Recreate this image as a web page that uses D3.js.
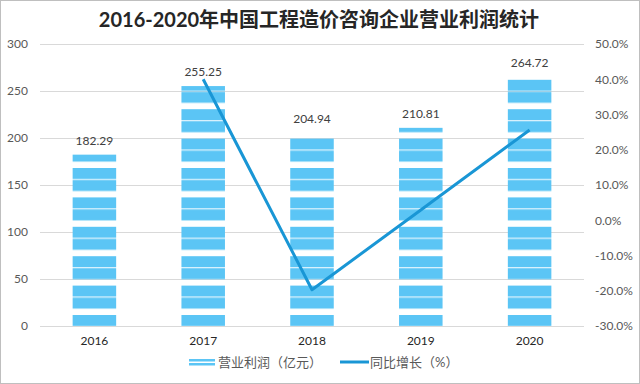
<!DOCTYPE html>
<html><head><meta charset="utf-8">
<script src="https://cdn.jsdelivr.net/npm/d3@7"></script>
<style>
html,body{margin:0;padding:0;background:#fff;}
svg{display:block;}
</style></head>
<body>
<svg id="c" width="640" height="384"></svg>
<script>
const years = ["2016","2017","2018","2019","2020"];
const profit = [182.29, 255.25, 204.94, 210.81, 264.72];
const growth = [null, 40.0, -19.7, 2.9, 25.6];
const leftTicks = [0,50,100,150,200,250,300];
const rightTicks = [-30,-20,-10,0,10,20,30,40,50];
const title = "2016-2020年中国工程造价咨询企业营业利润统计";
const legendLabels = ["营业利润（亿元）","同比增长（%）"];

const svg = d3.select("#c");
const W = 640, H = 384;
const m = {left:40, right:56, top:44, bottom:58};
const x = d3.scaleBand().domain(years).range([m.left, W - m.right]).paddingInner(0.6).paddingOuter(0.3);
const y = d3.scaleLinear().domain([0,300]).range([326, 44]);
const y2 = d3.scaleLinear().domain([-30,50]).range([326, 44]);
const font = "Lato, 'Noto Sans CJK SC', sans-serif";
const barColor = "#5bc5f5";
const lineColor = "#1996d5";

// border
svg.append("rect").attr("x",0.5).attr("y",0.5).attr("width",W-1).attr("height",H-1)
  .attr("fill","#fff").attr("stroke","#bfbfbf");

// stripe pattern
const defs = svg.append("defs");
const P = 29.4;
const pat = defs.append("pattern").attr("id","stripe").attr("patternUnits","userSpaceOnUse")
  .attr("x",0).attr("y",168).attr("width",10).attr("height",P);
pat.append("rect").attr("x",0).attr("y",0).attr("width",10).attr("height",11).attr("fill",barColor);
pat.append("rect").attr("x",0).attr("y",12).attr("width",10).attr("height",11).attr("fill",barColor);

// title
svg.append("text").attr("x",319).attr("y",27).attr("text-anchor","middle")
  .attr("font-family","Lato, 'Noto Sans CJK SC', sans-serif").attr("font-weight","bold")
  .attr("font-size",20).attr("fill","#262626").text(title);

// gridlines
svg.append("g").selectAll("line").data(leftTicks).join("line")
  .attr("x1",m.left).attr("x2",W-m.right)
  .attr("y1",d=>Math.round(y(d))+0.5).attr("y2",d=>Math.round(y(d))+0.5)
  .attr("stroke","#d9d9d9").attr("stroke-width",1);

// left axis
const gl = svg.append("g").attr("transform",`translate(${m.left},0)`)
  .call(d3.axisLeft(y).tickValues(leftTicks).tickSize(0).tickPadding(12));
gl.select(".domain").remove();
gl.selectAll("text").attr("font-family",font).attr("font-size",12).attr("fill","#595959");

// right axis
const gr = svg.append("g").attr("transform",`translate(${W-m.right},0)`)
  .call(d3.axisRight(y2).tickValues(rightTicks).tickSize(0).tickPadding(11).tickFormat(d=>d.toFixed(1)+"%"));
gr.select(".domain").remove();
gr.selectAll("text").attr("font-family",font).attr("font-size",12).attr("fill","#595959");

// bottom axis
const gb = svg.append("g").attr("transform",`translate(0,326)`)
  .call(d3.axisBottom(x).tickSize(0).tickPadding(10));
gb.select(".domain").remove();
gb.selectAll("text").attr("font-family",font).attr("font-size",12).attr("fill","#262626");

// bars
svg.append("g").selectAll("rect").data(years).join("rect")
  .attr("x",d=>x(d)).attr("width",x.bandwidth())
  .attr("y",(d,i)=>y(profit[i])).attr("height",(d,i)=>y(0)-y(profit[i]))
  .attr("fill","url(#stripe)");

// labels
svg.append("g").selectAll("text").data(years).join("text")
  .attr("x",d=>x(d)+x.bandwidth()/2).attr("y",(d,i)=>y(profit[i])-10)
  .attr("text-anchor","middle").attr("font-family",font).attr("font-size",12).attr("fill","#404040")
  .text((d,i)=>profit[i].toFixed(2));

// line
const line = d3.line().defined(d=>d[1]!==null)
  .x(d=>x(d[0])+x.bandwidth()/2).y(d=>y2(d[1]));
svg.append("path").datum(years.map((d,i)=>[d,growth[i]]))
  .attr("d",line).attr("fill","none").attr("stroke",lineColor).attr("stroke-width",3)
  .attr("stroke-linejoin","round");

// legend
const lg = svg.append("g");
lg.append("rect").attr("x",189).attr("y",359).attr("width",26).attr("height",2.5).attr("fill",barColor);
lg.append("rect").attr("x",189).attr("y",363).attr("width",26).attr("height",2.5).attr("fill",barColor);
lg.append("text").attr("x",218).attr("y",367).attr("font-family",font).attr("font-size",13).attr("fill","#595959").text(legendLabels[0]);
lg.append("line").attr("x1",340).attr("x2",369).attr("y1",362).attr("y2",362).attr("stroke",lineColor).attr("stroke-width",3);
lg.append("text").attr("x",370).attr("y",367).attr("font-family",font).attr("font-size",13).attr("fill","#595959").text(legendLabels[1]);
</script>
</body></html>
